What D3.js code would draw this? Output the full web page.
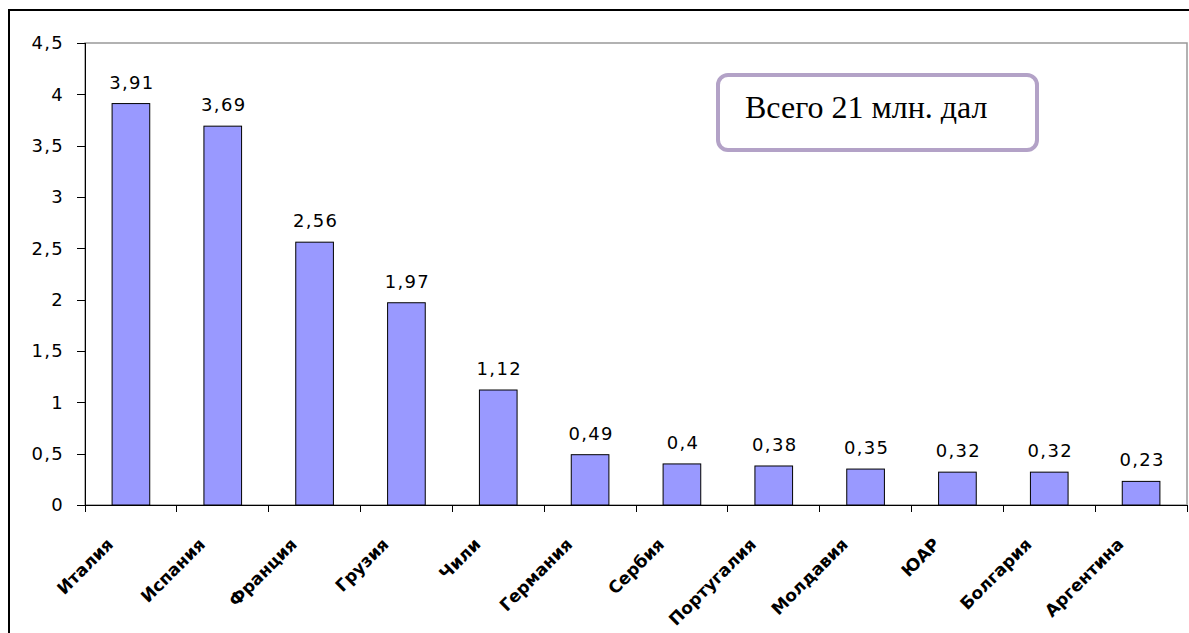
<!DOCTYPE html>
<meta charset="utf-8">
<style>
  body { margin: 0; background: #fff; }
  .bar { fill: #9999ff; stroke: #000; stroke-width: 1px; }
  .val { font: 18px Verdana, "DejaVu Sans", sans-serif; letter-spacing: 1.3px; fill: #000; }
  .yaxis text { font: 18px Verdana, "DejaVu Sans", sans-serif; letter-spacing: 1.3px; fill: #000; }
  .xaxis text { font: bold 17px Verdana, "DejaVu Sans", sans-serif; fill: #000; }
  .yaxis path, .yaxis line, .xaxis path, .xaxis line { stroke: #000; shape-rendering: crispEdges; }
</style>
<body>
<script src="https://d3js.org/d3.v7.min.js"></script>
<script>
  var countries = ["Италия", "Испания", "Франция", "Грузия", "Чили", "Германия",
                   "Сербия", "Португалия", "Молдавия", "ЮАР", "Болгария", "Аргентина"];
  var values = [3.91, 3.69, 2.56, 1.97, 1.12, 0.49, 0.4, 0.38, 0.35, 0.32, 0.32, 0.23];
  var yTicks = [0, 0.5, 1, 1.5, 2, 2.5, 3, 3.5, 4, 4.5];
  var note = "Всего 21 млн. дал";

  var W = 1189, H = 633;
  var margin = {top: 43, right: 2, bottom: 128, left: 85};
  var width = W - margin.left - margin.right,
      height = H - margin.top - margin.bottom;

  var fmt = function(d) { return String(d).replace(".", ","); };

  var svg = d3.select("body").append("svg")
      .attr("width", W)
      .attr("height", H);

  // outer frame (top and left edges visible)
  svg.append("path")
      .attr("d", "M9," + H + "V10H" + W)
      .attr("fill", "none")
      .attr("stroke", "#000")
      .attr("stroke-width", 2);

  var g = svg.append("g")
      .attr("transform", "translate(" + margin.left + "," + margin.top + ")");

  var x = d3.scaleBand().domain(countries).range([0, width]).paddingInner(0.59).paddingOuter(0.295);
  var xt = d3.scaleBand().domain(countries).range([0, width]);
  var y = d3.scaleLinear().domain([0, 4.5]).range([height, 0]);

  // plot area border
  g.append("rect")
      .attr("x", 0).attr("y", 0)
      .attr("width", width).attr("height", height)
      .attr("fill", "none")
      .attr("stroke", "#999")
      .attr("stroke-width", 1.5);

  g.selectAll(".bar")
      .data(values)
    .enter().append("rect")
      .attr("class", "bar")
      .attr("x", function(d, i) { return x(countries[i]); })
      .attr("width", x.bandwidth())
      .attr("y", function(d) { return y(d); })
      .attr("height", function(d) { return height - y(d); });

  g.selectAll(".val")
      .data(values)
    .enter().append("text")
      .attr("class", "val")
      .attr("text-anchor", "middle")
      .attr("x", function(d, i) { return x(countries[i]) + x.bandwidth() / 2 + 1; })
      .attr("y", function(d) { return y(d) - 15; })
      .text(fmt);

  // y axis
  g.append("g")
      .attr("class", "yaxis")
      .call(d3.axisLeft(y).tickValues(yTicks).tickSize(8).tickPadding(13).tickFormat(fmt));

  // x axis with ticks at category boundaries
  var xa = g.append("g")
      .attr("class", "xaxis")
      .attr("transform", "translate(0," + height + ")");
  xa.append("line").attr("x1", 0).attr("x2", width).attr("y1", 0).attr("y2", 0);
  xa.selectAll(".tk")
      .data(countries.concat([null]))
    .enter().append("line")
      .attr("x1", function(d, i) { return i * xt.step(); })
      .attr("x2", function(d, i) { return i * xt.step(); })
      .attr("y1", 0).attr("y2", 7);
  xa.selectAll(".lbl")
      .data(countries)
    .enter().append("text")
      .attr("text-anchor", "end")
      .attr("transform", function(d) {
        return "translate(" + (xt(d) + xt.bandwidth() / 2 - 25) + ",32) rotate(-45)";
      })
      .attr("dy", "0.7em")
      .text(function(d) { return d; });

  // annotation box
  var bx = 718 - margin.left, by = 75 - margin.top;
  g.append("rect")
      .attr("x", bx).attr("y", by)
      .attr("width", 319).attr("height", 75)
      .attr("rx", 10)
      .attr("fill", "#fff")
      .attr("stroke", "#b3a2c7")
      .attr("stroke-width", 4);
  g.append("text")
      .attr("x", bx + 27).attr("y", by + 43)
      .style("font", "32px 'Times New Roman', 'Liberation Serif', serif")
      .text(note);
</script>
</body>
